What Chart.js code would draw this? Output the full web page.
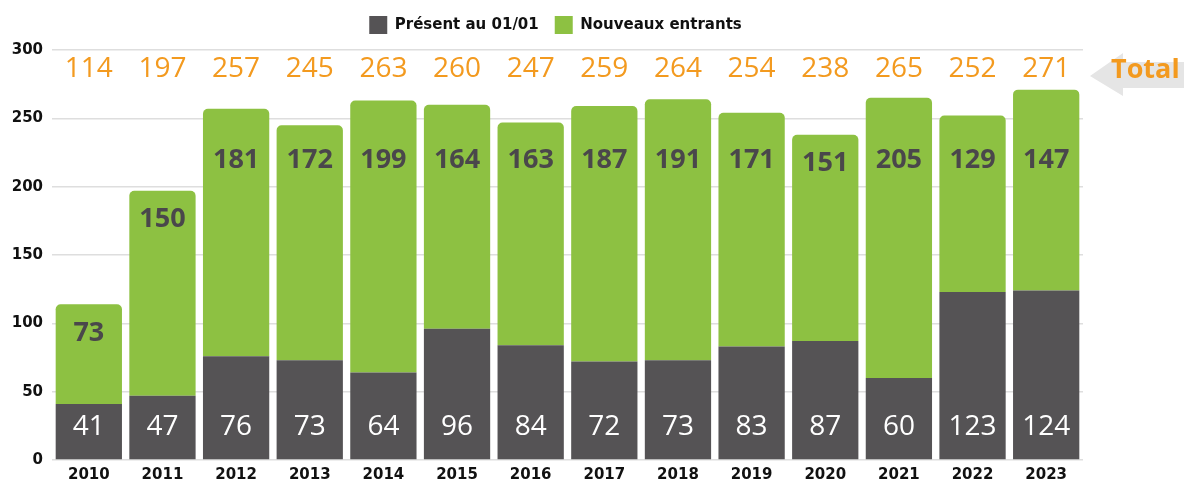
<!DOCTYPE html>
<html>
<head>
<meta charset="utf-8">
<script src="https://cdn.jsdelivr.net/npm/chart.js@4.4.1/dist/chart.umd.min.js"></script>
<style>
  html, body { margin: 0; padding: 0; background: #fff; }
  #wrap { width: 1184px; height: 480px; }
</style>
</head>
<body>
<div id="wrap"><canvas id="chart"></canvas></div>
<script>
const years = ['2010', '2011', '2012', '2013', '2014', '2015', '2016', '2017', '2018', '2019', '2020', '2021', '2022', '2023'];
const presents = [41, 47, 76, 73, 64, 96, 84, 72, 73, 83, 87, 60, 123, 124];
const nouveaux = [73, 150, 181, 172, 199, 164, 163, 187, 191, 171, 151, 205, 129, 147];
const totals = [114, 197, 257, 245, 263, 260, 247, 259, 264, 254, 238, 265, 252, 271];

const GREY = '#555355';
const GREEN = '#8dc142';
const ORANGE = '#f39a1f';
const AXIS_FONT = { family: '"DejaVu Sans"', weight: 'bold', size: 15 };

// legend a bit taller so the plot starts lower, and nudged right
const legendSpace = {
    id: 'legendSpace',
    beforeInit(chart) {
        const fit = chart.legend.fit;
        chart.legend.fit = function () {
            fit.call(this);
            this.height += 6;
        };
    },
    afterLayout(chart) {
        chart.legend.left += 12;
        chart.legend.right += 12;
    }
};

// labels drawn inside / above the bars
const labelsPlugin = {
    id: 'barLabels',
    afterDatasetsDraw(chart) {
        const ctx = chart.ctx;
        const y = chart.scales.y;
        const greyMeta = chart.getDatasetMeta(0);
        const greenMeta = chart.getDatasetMeta(1);
        ctx.save();
        ctx.textAlign = 'center';
        ctx.textBaseline = 'middle';
        years.forEach((yr, i) => {
            const x = greyMeta.data[i].x;
            ctx.font = '28px "Open Sans"';
            ctx.fillStyle = '#ffffff';
            ctx.fillText(presents[i], x, y.getPixelForValue(24));

            ctx.font = 'bold 27px "Open Sans"';
            ctx.fillStyle = '#4a474b';
            const v = Math.min(219, totals[i] - 21);
            ctx.fillText(nouveaux[i], greenMeta.data[i].x, y.getPixelForValue(v));

            ctx.font = '28px "Open Sans"';
            ctx.fillStyle = ORANGE;
            ctx.fillText(totals[i], x, chart.chartArea.top + 19);
        });

        // "Total" arrow on the right
        const tipX = chart.chartArea.right + 7;
        const tipY = 76;
        ctx.fillStyle = '#e5e5e5';
        ctx.beginPath();
        ctx.moveTo(tipX, tipY);
        ctx.lineTo(tipX + 33, 53);
        ctx.lineTo(tipX + 33, 62);
        ctx.lineTo(1184, 62);
        ctx.lineTo(1184, 88);
        ctx.lineTo(tipX + 33, 88);
        ctx.lineTo(tipX + 33, 96);
        ctx.closePath();
        ctx.fill();
        ctx.font = 'bold 27px "Open Sans"';
        ctx.fillStyle = ORANGE;
        ctx.textAlign = 'left';
        ctx.fillText('Total', tipX + 21, 70);
        ctx.restore();
    }
};

new Chart(document.getElementById('chart'), {
    type: 'bar',
    data: {
        labels: years,
        datasets: [
            {
                label: 'Présent au 01/01',
                data: presents,
                backgroundColor: GREY,
                borderWidth: 0,
                categoryPercentage: 0.9,
                barPercentage: 1
            },
            {
                label: 'Nouveaux entrants',
                data: nouveaux,
                backgroundColor: GREEN,
                borderWidth: 0,
                borderRadius: { topLeft: 5, topRight: 5 },
                borderSkipped: false,
                categoryPercentage: 0.9,
                barPercentage: 1
            }
        ]
    },
    options: {
        responsive: true,
        maintainAspectRatio: false,
        animation: false,
        layout: { padding: { left: 4, right: 101, top: 0, bottom: 0 } },
        plugins: {
            legend: {
                position: 'top',
                labels: {
                    boxWidth: 18,
                    boxHeight: 18,
                    padding: 16,
                    color: '#111',
                    font: AXIS_FONT
                }
            },
            tooltip: { enabled: false }
        },
        scales: {
            x: {
                stacked: true,
                grid: { display: false, drawTicks: false },
                border: { display: false },
                afterFit(scale) { scale.height = 20; },
                ticks: {
                    color: '#111',
                    padding: 6,
                    font: AXIS_FONT
                }
            },
            y: {
                stacked: true,
                min: 0,
                max: 300,
                grid: { color: '#dedede', lineWidth: 1.5, drawTicks: false },
                border: { display: false },
                afterFit(scale) { scale.width = 48; },
                ticks: {
                    stepSize: 50,
                    color: '#111',
                    padding: 9,
                    font: AXIS_FONT
                }
            }
        }
    },
    plugins: [legendSpace, labelsPlugin]
});
</script>
</body>
</html>
